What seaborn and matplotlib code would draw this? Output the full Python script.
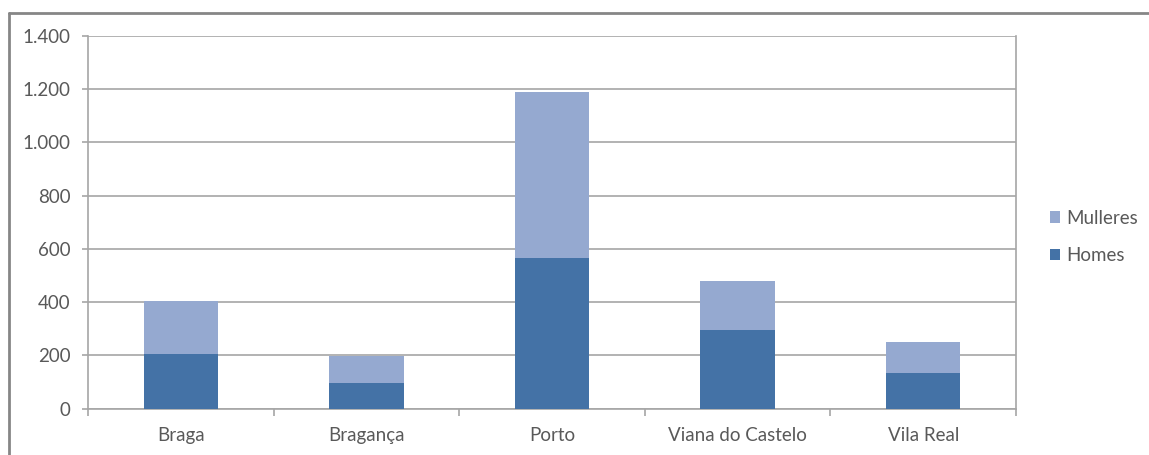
import matplotlib
matplotlib.use("Agg")
import matplotlib.pyplot as plt
import seaborn as sns
import pandas as pd
from matplotlib.ticker import FuncFormatter, FixedLocator
from matplotlib.lines import Line2D
from matplotlib.patches import Patch

categories = ["Braga", "Bragança", "Porto", "Viana do Castelo", "Vila Real"]
homes = [204, 95, 567, 294, 132]
mulleres = [201, 102, 621, 186, 117]
series_names = ["Mulleres", "Homes"]
y_ticks = [0, 200, 400, 600, 800, 1000, 1200, 1400]

c_homes = "#4472A6"
c_mull = "#95A9D0"
text_c = "#595959"
grid_c = "#A6A6A6"

sns.set_theme(style="white")
plt.rcParams["font.family"] = ["Lato", "DejaVu Sans"]

totals = [h + m for h, m in zip(homes, mulleres)]
df = pd.DataFrame({"cat": categories, "homes": homes, "total": totals})

fig = plt.figure(figsize=(11.49, 4.55), dpi=100)
ax = fig.add_axes([88 / 1149, 1 - 408.5 / 455, (1016 - 88) / 1149, (408.5 - 36) / 455])

sns.barplot(data=df, x="cat", y="total", color=c_mull, saturation=1, width=0.4,
            ax=ax, zorder=3, edgecolor="none")
sns.barplot(data=df, x="cat", y="homes", color=c_homes, saturation=1, width=0.4,
            ax=ax, zorder=4, edgecolor="none")

ax.set_xlim(-0.5, len(categories) - 0.5)
ax.set_ylim(0, 1400)
ax.yaxis.set_major_locator(FixedLocator(y_ticks))
ax.yaxis.set_major_formatter(FuncFormatter(lambda v, p: f"{int(v):,}".replace(",", ".")))
ax.grid(axis="y", color=grid_c, linewidth=1.2, zorder=0)
ax.set_axisbelow(True)
ax.set_xlabel("")
ax.set_ylabel("")

ax.spines["top"].set_visible(False)
for s in ["left", "right", "bottom"]:
    ax.spines[s].set_visible(True)
    ax.spines[s].set_color(grid_c)
    ax.spines[s].set_linewidth(1.2)

fs = 13.5
ax.set_xticks(range(len(categories)))
ax.set_xticklabels(categories)
ax.set_xticks([i - 0.5 for i in range(len(categories) + 1)], minor=True)
ax.tick_params(axis="x", which="major", length=0, pad=13, labelsize=fs, labelcolor=text_c)
ax.tick_params(axis="x", which="minor", length=5, width=1.2, color=grid_c, direction="out", bottom=True)
ax.tick_params(axis="y", which="major", length=4.5, width=1.2, color=grid_c, direction="out",
               left=True, pad=8, labelsize=fs, labelcolor=text_c)

handles = [Patch(facecolor=c_mull, edgecolor="none"), Patch(facecolor=c_homes, edgecolor="none")]
fig.legend(handles, series_names, loc="center left",
           bbox_to_anchor=(1033 / 1149, 1 - 237 / 455), frameon=False,
           fontsize=fs, labelcolor=text_c, handlelength=0.55, handleheight=0.55,
           handletextpad=0.35, labelspacing=1.1)

# outer chart border
fig.add_artist(Line2D([8.5 / 1149, 8.5 / 1149], [0, 1 - 12.5 / 455], transform=fig.transFigure,
                      color="#868686", linewidth=2))
fig.add_artist(Line2D([8.5 / 1149, 1], [1 - 12.5 / 455, 1 - 12.5 / 455], transform=fig.transFigure,
                      color="#868686", linewidth=2))

fig.savefig("out.png", dpi=100, facecolor="white")
